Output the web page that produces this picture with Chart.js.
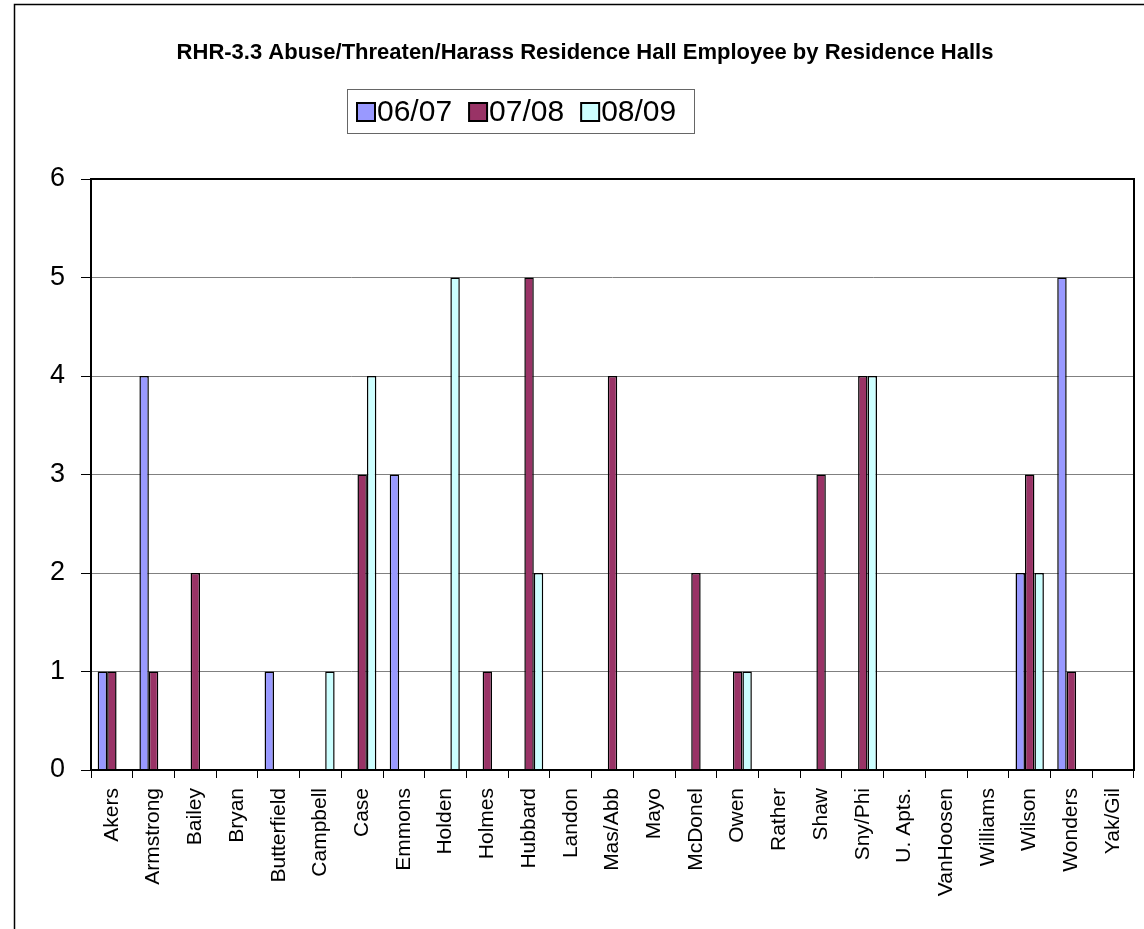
<!DOCTYPE html>
<html>
<head>
<meta charset="utf-8">
<script src="https://cdn.jsdelivr.net/npm/chart.js@4.4.0/dist/chart.umd.min.js"></script>
<style>
  body { margin: 0; background: #fff; }
  #wrap { width: 1144px; height: 929px; }
</style>
</head>
<body>
<div id="wrap"><canvas id="hallChart" width="1144" height="929"></canvas></div>
<script>
var titleText = 'RHR-3.3 Abuse/Threaten/Harass Residence Hall Employee by Residence Halls';

var halls = ['Akers', 'Armstrong', 'Bailey', 'Bryan', 'Butterfield', 'Campbell', 'Case', 'Emmons',
  'Holden', 'Holmes', 'Hubbard', 'Landon', 'Mas/Abb', 'Mayo', 'McDonel', 'Owen', 'Rather', 'Shaw',
  'Sny/Phi', 'U. Apts.', 'VanHoosen', 'Williams', 'Wilson', 'Wonders', 'Yak/Gil'];

// une valeur par residence, dans l'ordre de halls
var y0607 = [1, 4, 0, 0, 1, 0, 0, 3, 0, 0, 0, 0, 0, 0, 0, 0, 0, 0, 0, 0, 0, 0, 2, 5, 0];
var y0708 = [1, 1, 2, 0, 0, 0, 3, 0, 0, 1, 5, 0, 4, 0, 2, 1, 0, 3, 4, 0, 0, 0, 3, 1, 0];
var y0809 = [0, 0, 0, 0, 0, 1, 4, 0, 5, 0, 2, 0, 0, 0, 0, 1, 0, 0, 4, 0, 0, 0, 2, 0, 0];

var yTicks = [0, 1, 2, 3, 4, 5, 6];

var font = '"Liberation Sans", Arial, sans-serif';

// cadre, titre et legende dessines a la main (position comme dans Excel)
var decorPlugin = {
  id: 'decor',
  afterDraw: function(chart) {
    var ctx = chart.ctx;
    var a = chart.chartArea;
    ctx.save();

    // cadre exterieur
    ctx.strokeStyle = '#000';
    ctx.lineWidth = 1.5;
    ctx.strokeRect(14.5, 4.5, 1200, 1000);

    // cadre de la zone de trace
    ctx.lineWidth = 2;
    ctx.strokeRect(a.left, a.top, a.right - a.left, a.bottom - a.top);

    // titre
    ctx.fillStyle = '#000';
    ctx.font = 'bold 22px ' + font;
    ctx.textAlign = 'center';
    ctx.textBaseline = 'middle';
    ctx.fillText(titleText, 585, 53);

    // legende
    ctx.lineWidth = 1;
    ctx.strokeStyle = '#666';
    ctx.strokeRect(347.5, 89.5, 347, 44);
    ctx.font = '30px ' + font;
    ctx.textAlign = 'left';
    var x = 357;
    chart.data.datasets.forEach(function(ds) {
      ctx.fillStyle = ds.backgroundColor;
      ctx.fillRect(x, 103, 18, 18);
      ctx.strokeStyle = '#000';
      ctx.lineWidth = 2;
      ctx.strokeRect(x, 103, 18, 18);
      ctx.fillStyle = '#000';
      ctx.fillText(ds.label, x + 20, 113);
      x += 20 + ctx.measureText(ds.label).width + 17;
    });
    ctx.restore();
  }
};

var ctx = document.getElementById('hallChart').getContext('2d');
var chart = new Chart(ctx, {
  type: 'bar',
  data: {
    labels: halls,
    datasets: [
      { label: '06/07', data: y0607, backgroundColor: '#9999FF' },
      { label: '07/08', data: y0708, backgroundColor: '#993366' },
      { label: '08/09', data: y0809, backgroundColor: '#CCFFFF' }
    ]
  },
  options: {
    responsive: false,
    animation: false,
    layout: { padding: { left: 0, top: 179, right: 10, bottom: 0 } },
    datasets: {
      bar: {
        borderColor: '#000',
        borderWidth: 1.5,
        categoryPercentage: 0.68,
        barPercentage: 1.0
      }
    },
    scales: {
      x: {
        grid: { drawOnChartArea: false, drawTicks: true, tickLength: 8, color: '#000', lineWidth: 1 },
        border: { display: false },
        ticks: {
          color: '#000',
          font: { family: font, size: 21 },
          minRotation: 90,
          maxRotation: 90,
          autoSkip: false,
          padding: 10
        },
        afterFit: function(scale) {
          scale.height = 159;
          scale.paddingLeft = 0;
          scale.paddingRight = 0;
        }
      },
      y: {
        min: 0,
        max: 6,
        afterBuildTicks: function(scale) {
          scale.ticks = yTicks.map(function(v) { return { value: v }; });
        },
        grid: { color: '#808080', lineWidth: 1, tickLength: 10, tickColor: '#000' },
        border: { display: false },
        ticks: {
          color: '#000',
          font: { family: font, size: 27 },
          padding: 16
        },
        afterFit: function(scale) {
          scale.width = 91;
          scale.paddingTop = 0;
          scale.paddingBottom = 0;
        }
      }
    },
    plugins: {
      legend: { display: false },
      title: { display: false },
      tooltip: { enabled: false }
    }
  },
  plugins: [decorPlugin]
});
</script>
</body>
</html>
